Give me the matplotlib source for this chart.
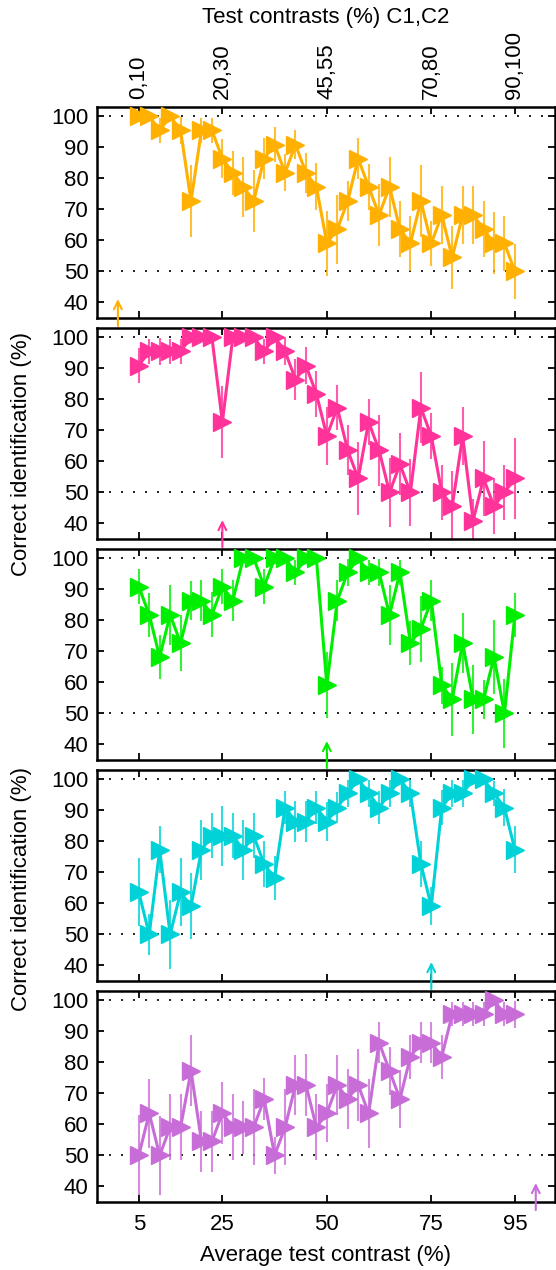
import matplotlib
matplotlib.use('Agg')
import matplotlib.pyplot as plt

plt.rcParams['font.family'] = ['Liberation Sans', 'DejaVu Sans']

# average test contrast (%)
x = [5, 7.5, 10, 12.5, 15, 17.5, 20, 22.5, 25, 27.5, 30, 32.5, 35, 37.5, 40, 42.5, 45, 47.5,
     50, 52.5, 55, 57.5, 60, 62.5, 65, 67.5, 70, 72.5, 75, 77.5, 80, 82.5, 85, 87.5, 90, 92.5, 95]

# percent correct per panel
p1 = [100, 100, 95.5, 100, 95.5, 72.7, 95.5, 95.5, 86.4, 81.8, 77.3, 72.7, 86.4, 90.9, 81.8, 90.9, 81.8, 77.3,
      59.1, 63.6, 72.7, 86.4, 77.3, 68.2, 77.3, 63.6, 59.1, 72.7, 59.1, 68.2, 54.5, 68.2, 68.2, 63.6, 59.1, 59.1, 50]
p2 = [90.9, 95.5, 95.5, 95.5, 95.5, 100, 100, 100, 72.7, 100, 100, 100, 95.5, 100, 95.5, 86.4, 90.9, 81.8,
      68.2, 77.3, 63.6, 54.5, 72.7, 63.6, 50, 59.1, 50, 77.3, 68.2, 50, 45.5, 68.2, 40.9, 54.5, 45.5, 50, 54.5]
p3 = [90.9, 81.8, 68.2, 81.8, 72.7, 86.4, 86.4, 81.8, 90.9, 86.4, 100, 100, 90.9, 100, 100, 95.5, 100, 100,
      59.1, 86.4, 95.5, 100, 95.5, 95.5, 81.8, 95.5, 72.7, 77.3, 86.4, 59.1, 54.5, 72.7, 54.5, 54.5, 68.2, 50, 81.8]
p4 = [63.6, 50, 77.3, 50, 63.6, 59.1, 77.3, 81.8, 81.8, 81.8, 77.3, 81.8, 72.7, 68.2, 90.9, 86.4, 86.4, 90.9,
      86.4, 90.9, 95.5, 100, 95.5, 90.9, 95.5, 100, 95.5, 72.7, 59.1, 90.9, 95.5, 95.5, 100, 100, 95.5, 90.9, 77.3]
p5 = [50, 63.6, 50, 59.1, 59.1, 77.3, 54.5, 54.5, 63.6, 59.1, 59.1, 59.1, 68.2, 50, 59.1, 72.7, 72.7, 59.1,
      63.6, 72.7, 68.2, 72.7, 63.6, 86.4, 77.3, 68.2, 81.8, 86.4, 86.4, 81.8, 95.5, 95.5, 95.5, 95.5, 100, 95.5, 95.5]

# error bar half lengths (%)
e1 = [0, 0, 4, 0, 4.3, 11.6, 4, 4, 6.4, 7, 9.6, 9.9, 6.7, 5.5, 6, 4.8, 6.5, 7.5,
      10.5, 11.2, 6.6, 6.7, 7.4, 10, 9.6, 9, 8.8, 11.5, 7.2, 9.4, 10, 9.5, 9.5, 9, 10, 8.8, 8.8]
e2 = [5.6, 4, 4.3, 4, 4, 0, 0, 0, 11.7, 0, 0, 0, 4, 0, 4.5, 6.5, 5.9, 7.5,
      9.5, 7.2, 8, 11.9, 7.3, 11.5, 11, 9.9, 10.8, 11.5, 7.5, 9, 11.5, 9.5, 7, 12, 9, 9, 13]
e3 = [5.7, 7, 7, 9.6, 9.1, 6.4, 6.7, 7.2, 5.6, 6.5, 0, 0, 5.5, 0, 0, 4, 0, 0,
      10.6, 6.6, 4.3, 0, 4, 4.3, 9.6, 4, 7, 10.7, 6.6, 6, 11.8, 9.6, 11.2, 6.4, 11.8, 11, 7]
e4 = [11, 6.5, 7.5, 11, 11, 10.7, 9.7, 7.3, 9.7, 7.3, 9.7, 7.3, 7.4, 7, 5.4, 6.5, 6.5, 5.4,
      6.2, 5.1, 4.3, 0, 4.3, 5.4, 4.3, 0, 4.3, 7.3, 6.2, 5.6, 4.3, 4.3, 0, 0, 4, 5.9, 7.5]
e5 = [12.9, 11.1, 12.8, 10.7, 10.7, 11.4, 9.9, 9.9, 10, 10.7, 8.6, 12.3, 6.9, 6, 12.3, 9.8, 9.9, 10.7,
      9.3, 9.7, 9.7, 11.6, 11.1, 6.5, 7.8, 9.5, 7.1, 6.5, 6.5, 7.1, 3.8, 3.8, 3.8, 3.8, 0, 3.8, 4.3]

colors = ['#FFB000', '#FF3399', '#00EE00', '#00D2D8', '#C86DD8']
arrow_x = [0, 25, 50, 75, 100]

xticks = [5, 25, 50, 75, 95]
top_labels = ['0,10', '20,30', '45,55', '70,80', '90,100']
yticks = [40, 50, 60, 70, 80, 90, 100]

values = [p1, p2, p3, p4, p5]
errors = [e1, e2, e3, e4, e5]

W, H = 556, 1270
fig = plt.figure(figsize=(W / 100, H / 100), dpi=100)

left = 97 / W
width = 458 / W
ph = 211
fs = 16
for i in range(5):
    top = 107 + 221 * i
    ax = fig.add_axes([left, 1 - (top + ph) / H, width, ph / H])
    c = colors[i]
    ax.axhline(100, color='black', lw=1.2, ls=(0, (1.2, 6)), zorder=1)
    ax.axhline(50, color='black', lw=1.2, ls=(0, (1.2, 6)), zorder=1)
    ax.errorbar(x, values[i], yerr=errors[i], fmt='none', ecolor=c, elinewidth=1.5,
                alpha=0.8, zorder=2)
    ax.plot(x, values[i], color=c, lw=2.2, marker='>', ms=12.5, mec=c, mfc=c, zorder=3)
    ax.annotate('', xy=(arrow_x[i], 42), xytext=(arrow_x[i], 31.5),
                arrowprops=dict(arrowstyle='->', color=c, lw=1.5, mutation_scale=14),
                annotation_clip=False)
    ax.set_xlim(-5, 104.6)
    ax.set_ylim(35, 103)
    ax.set_yticks(yticks)
    ax.set_xticks(xticks)
    ax.tick_params(direction='in', length=5, width=1.3, top=True, right=True,
                   labelsize=fs, pad=6)
    for s in ax.spines.values():
        s.set_linewidth(1.8)
    if i == 0:
        ax.tick_params(labeltop=True, labelbottom=False)
        ax.set_xticklabels(top_labels, rotation=90)
        for lab in ax.get_xticklabels():
            lab.set_va('bottom')
    elif i == 4:
        ax.set_xticklabels([str(t) for t in xticks])
        ax.tick_params(axis='x', pad=9)
        ax.set_xlabel('Average test contrast (%)', fontsize=fs, labelpad=7)
    else:
        ax.tick_params(labelbottom=False)

fig.text(326 / W, 1 - 18 / H, 'Test contrasts (%) C1,C2', ha='center', va='center', fontsize=fs)
fig.text(22 / W, 1 - 454 / H, 'Correct identification (%)', rotation=90, ha='center',
         va='center', fontsize=fs)
fig.text(22 / W, 1 - 889 / H, 'Correct identification (%)', rotation=90, ha='center',
         va='center', fontsize=fs)

fig.savefig('out.png', dpi=100)
